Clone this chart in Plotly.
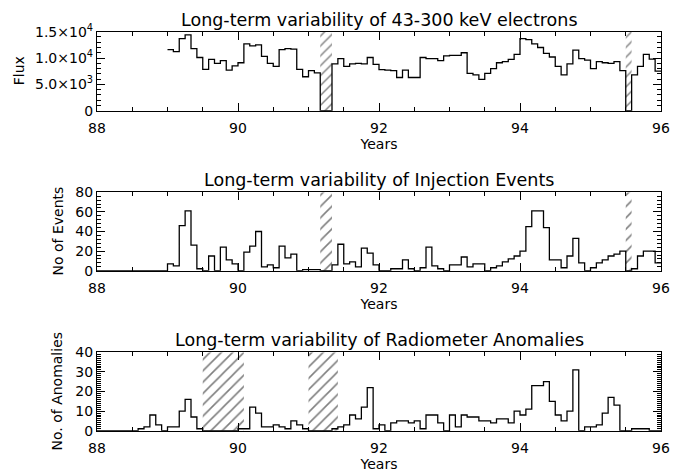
import plotly.graph_objects as go

flux_start = 89.0
flux = [11600, 11200, 13700, 14400, 11800, 10100, 7850, 9750, 9000, 9500, 7700, 8500,
        9100, 12700, 12300, 12500, 10300, 9000, 8400, 11600, 11800, 11700, 7850, 6450,
        7600, 7200, 0, 0, 8900, 9900, 8400, 8900, 9000, 8900, 10100, 8800,
        7800, 7700, 7600, 6300, 7700, 6300, 6300, 10100, 9900, 9900, 9500, 10400,
        10500, 10500, 11000, 7100, 6800, 5950, 7100, 8000, 9100, 9300, 9750, 10700,
        13700, 13500, 12700, 12000, 10900, 10200, 8400, 6800, 8900, 11500, 9900, 9600,
        8000, 9300, 9100, 9000, 9300, 7600, 0, 6800, 8400, 10700, 9800, 7500]

events_start = 88.0
events = [0] * 12 + [
    7, 5, 46, 61, 26, 2, 0, 15, 0, 24, 11, 7,
    0, 19, 25, 40, 4, 6, 3, 25, 13, 17, 0, 1,
    1, 1, 0, 0, 6, 27, 7, 9, 4, 23, 18, 6,
    0, 0, 2, 2, 11, 2, 0, 3, 24, 5, 2, 0,
    6, 6, 14, 4, 7, 7, 0, 3, 5, 9, 12, 15,
    20, 45, 61, 61, 44, 11, 11, 3, 15, 33, 8, 0,
    3, 8, 11, 15, 17, 20, 0, 2, 15, 20, 20, 8]

anom_start = 88.0
anomalies = [0, 0, 0, 0, 0, 0, 0, 1, 2, 8, 3, 0,
             2, 2, 10, 16, 7, 1, 0, 0, 0, 0, 0, 0,
             1, 1, 12, 9, 2, 2, 3, 2, 1, 5, 3, 1,
             0, 0, 0, 0, 1, 2, 3, 8, 6, 12, 22, 1,
             3, 0, 4, 5, 5, 4, 5, 1, 8, 8, 4, 0,
             8, 2, 8, 7, 7, 5, 5, 4, 6, 6, 4, 10,
             8, 11, 23, 23, 25, 15, 8, 5, 10, 31, 0, 2,
             2, 3, 9, 17, 13, 0, 0, 1, 1, 1, 0, 0]

flux_gaps = [(91.1667, 91.3333), (95.5, 95.5833)]
event_gaps = [(91.1667, 91.3333), (95.5, 95.5833)]
anom_gaps = [(89.5, 90.0833), (91.0, 91.4167)]

titles = ["Long-term variability of 43-300 keV electrons",
          "Long-term variability of Injection Events",
          "Long-term variability of Radiometer Anomalies"]
ytitles = ["Flux", "No of Events", "No. of Anomalies"]
flux_labels = {"0": "0", "5000": "5.0×10<sup>3</sup>", "10000": "1.0×10<sup>4</sup>",
               "15000": "1.5×10<sup>4</sup>"}

W, H = 681, 474
L, R, T, B = 97, 20, 12, 12
FONT = "DejaVu Sans"
fig = go.Figure()

panels = [
    dict(start=flux_start, vals=flux, gaps=flux_gaps, yr=[0, 15000], ax=""),
    dict(start=events_start, vals=events, gaps=event_gaps, yr=[0, 80], ax="2"),
    dict(start=anom_start, vals=anomalies, gaps=anom_gaps, yr=[0, 40], ax="3"),
]
hatch_size = [7, 8, 8]

for k, p in enumerate(panels):
    xa, ya = "x" + p["ax"], "y" + p["ax"]
    for (a, b) in p["gaps"]:
        fig.add_trace(go.Bar(
            x=[(a + b) / 2], y=[p["yr"][1] - p["yr"][0]], base=[p["yr"][0]], width=[b - a],
            marker=dict(color="black", line=dict(width=0),
                        pattern=dict(shape="/", fgcolor="black", bgcolor="rgba(0,0,0,0)",
                                     size=hatch_size[k], solidity=0.2)),
            xaxis=xa, yaxis=ya, showlegend=False, hoverinfo="skip"))
    n = len(p["vals"])
    xs = [p["start"] + i / 12 for i in range(n + 1)]
    ys = list(p["vals"]) + [p["vals"][-1]]
    fig.add_trace(go.Scatter(x=xs, y=ys, mode="lines", line=dict(shape="hv", color="black", width=1.3),
                             xaxis=xa, yaxis=ya, showlegend=False))

# panel boxes in pixels (top, bottom) -> paper fractions of the plot area
box_px = [(31.7, 110.7), (192.3, 270.7), (352.3, 430.7)]
PH = H - T - B
doms = [[1 - (b - T) / PH, 1 - (t - T) / PH] for (t, b) in box_px]

def minor(dt):
    return dict(tick0=0, dtick=dt, ticks="inside", ticklen=4, tickcolor="black", tickwidth=1,
                showgrid=False)

layout = dict(width=W, height=H, margin=dict(l=L, r=R, t=T, b=B, autoexpand=False),
              paper_bgcolor="white", plot_bgcolor="white", barmode="overlay",
              font=dict(family=FONT, size=14, color="black"))

ycfg = [
    dict(tickmode="linear", tick0=0, dtick=5000, tickformat="d", labelalias=flux_labels,
         minor=minor(1000)),
    dict(tickmode="linear", tick0=0, dtick=20, minor=minor(4)),
    dict(tickmode="linear", tick0=0, dtick=10, minor=minor(1)),
]
ytitle_px = [19, 57, 57]

for k, p in enumerate(panels):
    suf = p["ax"]
    xa = dict(range=[88, 96], tickmode="linear", tick0=88, dtick=2,
              ticks="inside", ticklen=8, minor=minor(0.5),
              tickcolor="black", tickwidth=1, showline=True, linecolor="black", linewidth=1.3,
              mirror="allticks", showgrid=False, zeroline=False, ticklabelstandoff=4,
              tickfont=dict(family=FONT, size=14, color="black"),
              title=dict(text="Years", font=dict(family=FONT, size=14, color="black"), standoff=4),
              domain=[0, 1], anchor="y" + suf)
    ya = dict(range=p["yr"], domain=doms[k], anchor="x" + suf, ticks="inside", ticklen=8,
              tickcolor="black", tickwidth=1, showline=True, linecolor="black", linewidth=1.3,
              mirror="allticks", showgrid=False, zeroline=False,
              tickfont=dict(family=FONT, size=14, color="black"))
    ya.update(ycfg[k])
    layout["xaxis" + suf] = xa
    layout["yaxis" + suf] = ya

fig.update_layout(**layout)

pw = W - L - R
for k in range(3):
    fig.add_annotation(text=titles[k], xref="paper", yref="paper", x=0.5, y=doms[k][1],
                       xanchor="center", yanchor="bottom", yshift=0, showarrow=False,
                       font=dict(family=FONT, size=17.5, color="black"))
    fig.add_annotation(text=ytitles[k], xref="paper", yref="paper",
                       x=(ytitle_px[k] - L) / pw, y=(doms[k][0] + doms[k][1]) / 2,
                       xanchor="center", yanchor="middle", textangle=-90, showarrow=False,
                       font=dict(family=FONT, size=14, color="black"))

# force a second full draw (tick marks only appeared after a re-plot in earlier runs)
redraw_js = ("var gd = document.getElementById('{plot_id}');"
             "Plotly.relayout(gd, {'margin.t': 12.5}).then(function(){"
             "return Plotly.relayout(gd, {'margin.t': 12});});")

fig.write_html("out.html", post_script=redraw_js)
